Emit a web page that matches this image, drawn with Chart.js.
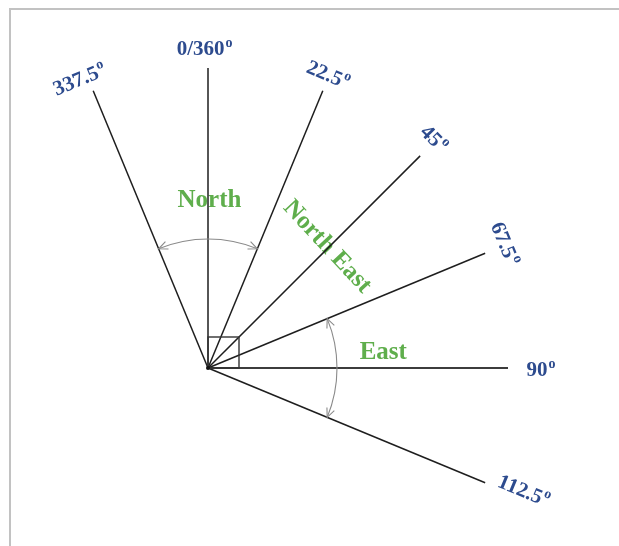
<!DOCTYPE html>
<html lang="en">
<head>
<meta charset="utf-8">
<title>Compass bearings</title>
<script src="https://cdn.jsdelivr.net/npm/chart.js@4/dist/chart.umd.min.js"></script>
<style>
  html, body { margin: 0; padding: 0; background: #fff; }
  #wrap { width: 619px; height: 546px; }
</style>
</head>
<body>
<div id="wrap"><canvas id="compassChart" width="619" height="546"></canvas></div>
<script>
// Rays: bearing in degrees, clockwise from north
const bearings = [337.5, 0, 22.5, 45, 67.5, 90, 112.5];
const bearingLabels = ['337.5º', '0/360º', '22.5º', '45º', '67.5º', '90º', '112.5º'];
const rayLength = 300;

// Sector names written between the rays
const sectorNames = ['North', 'North East', 'East'];

// Double arrows spanning a sector
const arcFrom = [337.5, 67.5];
const arcTo = [22.5, 112.5];
const arcRadius = 129;

// Where each label sits (polar anchor + text rotation), same order as above
const bearingLabelPlace = [
    { a: 336.0, r: 315, rot: -22.5 },
    { a: 359.4, r: 318, rot: 0 },
    { a: 22.3, r: 316, rot: 22.5 },
    { a: 44.6, r: 321, rot: 45 },
    { a: 67.3, r: 321, rot: 67.5 },
    { a: 90.5, r: 333, rot: 0 },
    { a: 111.4, r: 339, rot: 22.5 }
];
const sectorPlace = [
    { a: 0.5, r: 167, rot: 0 },
    { a: 44.5, r: 170, rot: 47 },
    { a: 84.8, r: 176, rot: 0 }
];

const BLUE = '#2d4b8e';
const GREEN = '#5fae4c';
const FONT = '"Liberation Serif", "Times New Roman", serif';

function polar(bearing, r) {
    const t = bearing * Math.PI / 180;
    return { x: r * Math.sin(t), y: r * Math.cos(t) };
}

// value -> pixel through the chart's own scales
function toPixel(chart, p) {
    return {
        x: chart.scales.x.getPixelForValue(p.x),
        y: chart.scales.y.getPixelForValue(p.y)
    };
}

function drawText(ctx, text, x, y, rot, size, color) {
    let main = text, sup = '';
    if (text.endsWith('º')) {
        main = text.slice(0, -1);
        sup = 'o';
    }
    const mainFont = `bold ${size}px ${FONT}`;
    const supFont = `bold ${Math.round(size * 0.66)}px ${FONT}`;
    ctx.save();
    ctx.translate(x, y);
    ctx.rotate(rot * Math.PI / 180);
    ctx.font = mainFont;
    const wMain = ctx.measureText(main).width;
    ctx.font = supFont;
    const wSup = sup ? ctx.measureText(sup).width + 1 : 0;
    const left = -(wMain + wSup) / 2;
    ctx.fillStyle = color;
    ctx.textAlign = 'left';
    ctx.textBaseline = 'middle';
    ctx.font = mainFont;
    ctx.fillText(main, left, 0);
    if (sup) {
        ctx.font = supFont;
        ctx.fillText(sup, left + wMain + 1, -size * 0.32);
    }
    ctx.restore();
}

function arrowHead(ctx, px, py, dx, dy, nx, ny) {
    const L = 9, W = 4;
    ctx.beginPath();
    ctx.moveTo(px - L * dx + W * nx, py - L * dy + W * ny);
    ctx.lineTo(px, py);
    ctx.lineTo(px - L * dx - W * nx, py - L * dy - W * ny);
    ctx.stroke();
}

const compassPlugin = {
    id: 'compassDecor',
    beforeDraw(chart) {
        const ctx = chart.ctx;
        ctx.save();
        ctx.fillStyle = '#fff';
        ctx.fillRect(0, 0, chart.width, chart.height);
        // picture frame (top and left edges)
        ctx.strokeStyle = '#c2c2c2';
        ctx.lineWidth = 2;
        ctx.beginPath();
        ctx.moveTo(chart.width, 9);
        ctx.lineTo(10, 9);
        ctx.lineTo(10, chart.height);
        ctx.stroke();
        ctx.restore();
    },
    beforeDatasetsDraw(chart) {
        const ctx = chart.ctx;
        bearingLabels.forEach((txt, i) => {
            const pl = bearingLabelPlace[i];
            const p = toPixel(chart, polar(pl.a, pl.r));
            drawText(ctx, txt, p.x, p.y, pl.rot, 21, BLUE);
        });
        sectorNames.forEach((txt, i) => {
            const pl = sectorPlace[i];
            const p = toPixel(chart, polar(pl.a, pl.r));
            drawText(ctx, txt, p.x, p.y, pl.rot, 25, GREEN);
        });
    },
    afterDatasetsDraw(chart) {
        const ctx = chart.ctx;
        const c = toPixel(chart, { x: 0, y: 0 });
        const rPx = chart.scales.x.getPixelForValue(arcRadius) - c.x;
        ctx.save();

        // right-angle marker at the origin
        const box = chart.scales.x.getPixelForValue(31) - c.x;
        ctx.strokeStyle = '#333';
        ctx.lineWidth = 1.4;
        ctx.strokeRect(c.x, c.y - box, box, box);

        // sector arcs with arrow heads on both ends
        ctx.strokeStyle = '#8a8a8a';
        ctx.lineWidth = 1.1;
        arcFrom.forEach((from, i) => {
            const a0 = (from - 360 * (from > arcTo[i]) - 90) * Math.PI / 180;
            const a1 = (arcTo[i] - 90) * Math.PI / 180;
            ctx.beginPath();
            ctx.arc(c.x, c.y, rPx, a0, a1);
            ctx.stroke();
            // end of arc: tangent points to increasing angle
            arrowHead(ctx, c.x + rPx * Math.cos(a1), c.y + rPx * Math.sin(a1),
                -Math.sin(a1), Math.cos(a1), Math.cos(a1), Math.sin(a1));
            // start of arc: tangent points to decreasing angle
            arrowHead(ctx, c.x + rPx * Math.cos(a0), c.y + rPx * Math.sin(a0),
                Math.sin(a0), -Math.cos(a0), Math.cos(a0), Math.sin(a0));
        });

        // small dot at the origin
        ctx.fillStyle = '#111';
        ctx.beginPath();
        ctx.arc(c.x, c.y, 2, 0, Math.PI * 2);
        ctx.fill();
        ctx.restore();
    }
};

const rayDatasets = bearings.map((b) => ({
    data: [{ x: 0, y: 0 }, polar(b, rayLength)],
    showLine: true,
    borderColor: b === 90 ? '#3c3c3c' : '#1e1e1e',
    borderWidth: b === 90 ? 2 : 1.5,
    pointRadius: 0,
    fill: false
}));

new Chart(document.getElementById('compassChart'), {
    type: 'scatter',
    data: { datasets: rayDatasets },
    options: {
        responsive: false,
        animation: false,
        layout: { padding: 0 },
        plugins: {
            legend: { display: false },
            tooltip: { enabled: false }
        },
        scales: {
            // 1 unit = 1 px, origin placed at pixel (208, 368)
            x: { type: 'linear', display: false, min: -208, max: 411 },
            y: { type: 'linear', display: false, min: -178, max: 368 }
        }
    },
    plugins: [compassPlugin]
});
</script>
</body>
</html>
